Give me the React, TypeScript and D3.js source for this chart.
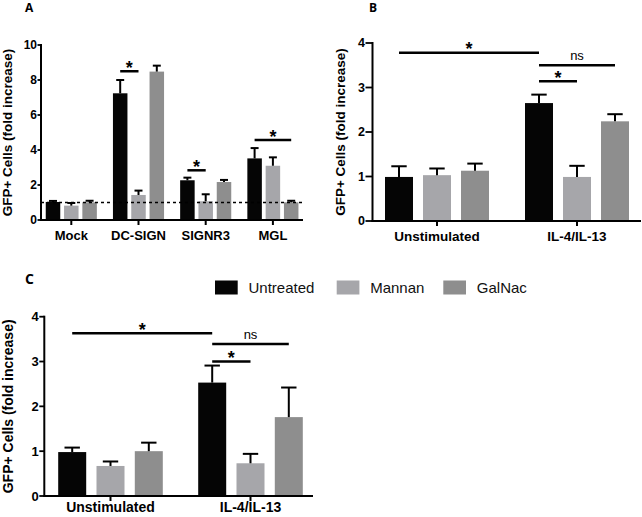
import React from "react";
import * as d3 from "d3";

// ---------- data ----------
const seriesNames = ["Untreated", "Mannan", "GalNac"];
const seriesColors = ["#050505", "#a6a6aa", "#8e8e8e"];

const categoriesA = ["Mock", "DC-SIGN", "SIGNR3", "MGL"];
const aUntreated = [1.03, 7.24, 2.27, 3.52];
const aUntreatedErr = [0.06, 0.76, 0.15, 0.59];
const aMannan = [0.82, 1.43, 1.07, 3.1];
const aMannanErr = [0.15, 0.25, 0.4, 0.48];
const aGalNac = [1.01, 8.48, 2.17, 1.01];
const aGalNacErr = [0.09, 0.34, 0.12, 0.09];
const ticksA = [0, 2, 4, 6, 8, 10];

const categoriesBC = ["Unstimulated", "IL-4/IL-13"];
const bUntreated = [0.99, 2.65];
const bUntreatedErr = [0.24, 0.19];
const bMannan = [1.03, 0.99];
const bMannanErr = [0.15, 0.25];
const bGalNac = [1.13, 2.24];
const bGalNacErr = [0.16, 0.16];

const cUntreated = [0.98, 2.53];
const cUntreatedErr = [0.1, 0.38];
const cMannan = [0.67, 0.73];
const cMannanErr = [0.1, 0.21];
const cGalNac = [1.0, 1.76];
const cGalNacErr = [0.19, 0.66];
const ticksBC = [0, 1, 2, 3, 4];

// significance: [catFrom, seriesFrom, catTo, seriesTo, yValue, label]
const sigA: [number, number, number, number, number, string][] = [
  [1, 0, 1, 1, 8.5, "*"],
  [2, 0, 2, 1, 2.84, "*"],
  [3, 0, 3, 2, 4.57, "*"],
];
const sigB: [number, number, number, number, number, string][] = [
  [0, 0, 1, 0, 3.78, "*"],
  [1, 0, 1, 2, 3.5, "ns"],
  [1, 0, 1, 1, 3.14, "*"],
];
const sigC: [number, number, number, number, number, string][] = [
  [0, 0, 1, 0, 3.63, "*"],
  [1, 0, 1, 2, 3.39, "ns"],
  [1, 0, 1, 1, 3.0, "*"],
];

const yLabel = "GFP+ Cells (fold increase)";
const FONT = "Liberation Sans, Arial, sans-serif";

type Cfg = {
  label: string;
  labelX: number;
  labelY: number;
  labelSize: number;
  categories: string[];
  values: number[][];
  errs: number[][];
  ticks: number[];
  yMax: number;
  yTop: number;
  yBottom: number;
  axisX: number;
  axisEnd: number;
  bandRange: [number, number];
  inner: number;
  barW: number;
  tickLen: number;
  tickFont: number;
  catFont: number;
  catBaseline: number;
  ylabX: number;
  ylabFont: number;
  sig: [number, number, number, number, number, string][];
  dashed?: number;
};

function Panel({ cfg }: { cfg: Cfg }) {
  const x = d3.scaleBand<string>().domain(cfg.categories).range(cfg.bandRange);
  const xi = d3.scalePoint<string>().domain(seriesNames).range([-cfg.inner, cfg.inner]);
  const y = d3.scaleLinear().domain([0, cfg.yMax]).range([cfg.yBottom, cfg.yTop]);
  const cx = (ci: number, si: number) =>
    (x(cfg.categories[ci]) as number) + x.bandwidth() / 2 + (xi(seriesNames[si]) as number);
  const capW = cfg.barW * 0.55;
  const y0 = y(0);
  return (
    <g>
      <text x={cfg.labelX} y={cfg.labelY} fontSize={cfg.labelSize} fontWeight="bold" fontFamily="Open Sans, sans-serif">
        {cfg.label}
      </text>
      {/* bars */}
      {cfg.categories.map((c, ci) =>
        seriesNames.map((s, si) => {
          const v = cfg.values[si][ci];
          const e = cfg.errs[si][ci];
          const bx = cx(ci, si);
          return (
            <g key={c + s}>
              <rect x={bx - cfg.barW / 2} y={y(v)} width={cfg.barW} height={y0 - y(v)} fill={seriesColors[si]} />
              <line x1={bx} x2={bx} y1={y(v)} y2={y(v + e)} stroke="#000" strokeWidth={2} />
              <line x1={bx - capW / 2} x2={bx + capW / 2} y1={y(v + e)} y2={y(v + e)} stroke="#000" strokeWidth={2} />
            </g>
          );
        })
      )}
      {cfg.dashed !== undefined && (
        <line x1={cfg.axisX} x2={cfg.axisEnd} y1={y(cfg.dashed)} y2={y(cfg.dashed)} stroke="#000" strokeWidth={1.5} strokeDasharray="3,3" />
      )}
      {/* y axis */}
      <line x1={cfg.axisX} x2={cfg.axisX} y1={y(cfg.yMax) - 1} y2={y0 + 1} stroke="#000" strokeWidth={2} />
      {cfg.ticks.map((t) => (
        <g key={t}>
          <line x1={cfg.axisX - cfg.tickLen} x2={cfg.axisX} y1={y(t)} y2={y(t)} stroke="#000" strokeWidth={1.8} />
          <text
            x={cfg.axisX - cfg.tickLen - 0.5}
            y={y(t)}
            textAnchor="end"
            dominantBaseline="central"
            fontSize={cfg.tickFont}
            fontWeight="bold"
            fontFamily={FONT}
          >
            {t}
          </text>
        </g>
      ))}
      {/* x axis */}
      <line x1={cfg.axisX - 1} x2={cfg.axisEnd} y1={y0} y2={y0} stroke="#000" strokeWidth={2} />
      {cfg.categories.map((c) => {
        const gx = (x(c) as number) + x.bandwidth() / 2;
        return (
          <g key={c}>
            <line x1={gx} x2={gx} y1={y0} y2={y0 + 5} stroke="#000" strokeWidth={2} />
            <text x={gx} y={cfg.catBaseline} textAnchor="middle" fontSize={cfg.catFont} fontWeight="bold" fontFamily={FONT}>
              {c}
            </text>
          </g>
        );
      })}
      {/* y label */}
      <text
        transform={`translate(${cfg.ylabX},${(cfg.yTop + cfg.yBottom) / 2}) rotate(-90)`}
        textAnchor="middle"
        dominantBaseline="central"
        fontSize={cfg.ylabFont}
        fontWeight="bold"
        fontFamily={FONT}
      >
        {yLabel}
      </text>
      {/* significance */}
      {cfg.sig.map(([c1, s1, c2, s2, v, lab], i) => {
        const xa = cx(c1, s1);
        const xb = cx(c2, s2);
        const ly = y(v);
        return (
          <g key={i}>
            <line x1={xa} x2={xb} y1={ly} y2={ly} stroke="#000" strokeWidth={2.5} />
            {lab === "*" ? (
              <text x={(xa + xb) / 2} y={ly + 2.5} textAnchor="middle" fontSize={18} fontWeight="bold" fontFamily={FONT}>
                *
              </text>
            ) : (
              <text x={(xa + xb) / 2} y={ly - 5} textAnchor="middle" fontSize={13} fontFamily={FONT}>
                {lab}
              </text>
            )}
          </g>
        );
      })}
    </g>
  );
}

const cfgA: Cfg = {
  label: "A",
  labelX: 25,
  labelY: 11.5,
  labelSize: 12,
  categories: categoriesA,
  values: [aUntreated, aMannan, aGalNac],
  errs: [aUntreatedErr, aMannanErr, aGalNacErr],
  ticks: ticksA,
  yMax: 10,
  yTop: 45,
  yBottom: 220,
  axisX: 41,
  axisEnd: 303,
  bandRange: [37.7, 306.5],
  inner: 18.3,
  barW: 14.5,
  tickLen: 3.5,
  tickFont: 12,
  catFont: 13,
  catBaseline: 240,
  ylabX: 7.5,
  ylabFont: 13.5,
  sig: sigA,
  dashed: 1,
};

const cfgB: Cfg = {
  label: "B",
  labelX: 369,
  labelY: 11.5,
  labelSize: 12,
  categories: categoriesBC,
  values: [bUntreated, bMannan, bGalNac],
  errs: [bUntreatedErr, bMannanErr, bGalNacErr],
  ticks: ticksBC,
  yMax: 4,
  yTop: 43,
  yBottom: 221,
  axisX: 372.5,
  axisEnd: 641,
  bandRange: [367, 647],
  inner: 38,
  barW: 28,
  tickLen: 7,
  tickFont: 12.5,
  catFont: 13.5,
  catBaseline: 240.5,
  ylabX: 340,
  ylabFont: 13.5,
  sig: sigB,
};

const cfgC: Cfg = {
  label: "C",
  labelX: 25,
  labelY: 284,
  labelSize: 14,
  categories: categoriesBC,
  values: [cUntreated, cMannan, cGalNac],
  errs: [cUntreatedErr, cMannanErr, cGalNacErr],
  ticks: ticksBC,
  yMax: 4,
  yTop: 316.7,
  yBottom: 496,
  axisX: 44.3,
  axisEnd: 313,
  bandRange: [40.5, 320.5],
  inner: 38.3,
  barW: 28,
  tickLen: 5,
  tickFont: 13,
  catFont: 14,
  catBaseline: 511.5,
  ylabX: 7.5,
  ylabFont: 14,
  sig: sigC,
};

const legendX = [215, 336.7, 443.3];

export default function App() {
  return (
    <svg width={642} height={517} style={{ position: "absolute", left: 0, top: 0, background: "#fff" }}>
      <rect width={642} height={517} fill="#fff" />
      <Panel cfg={cfgA} />
      <Panel cfg={cfgB} />
      <Panel cfg={cfgC} />
      {seriesNames.map((s, i) => (
        <g key={s}>
          <rect x={legendX[i]} y={280.5} width={22.7} height={14} fill={seriesColors[i]} />
          <text x={legendX[i] + 33.5} y={293} fontSize={15} fontFamily={FONT} fill="#111">
            {s}
          </text>
        </g>
      ))}
    </svg>
  );
}
